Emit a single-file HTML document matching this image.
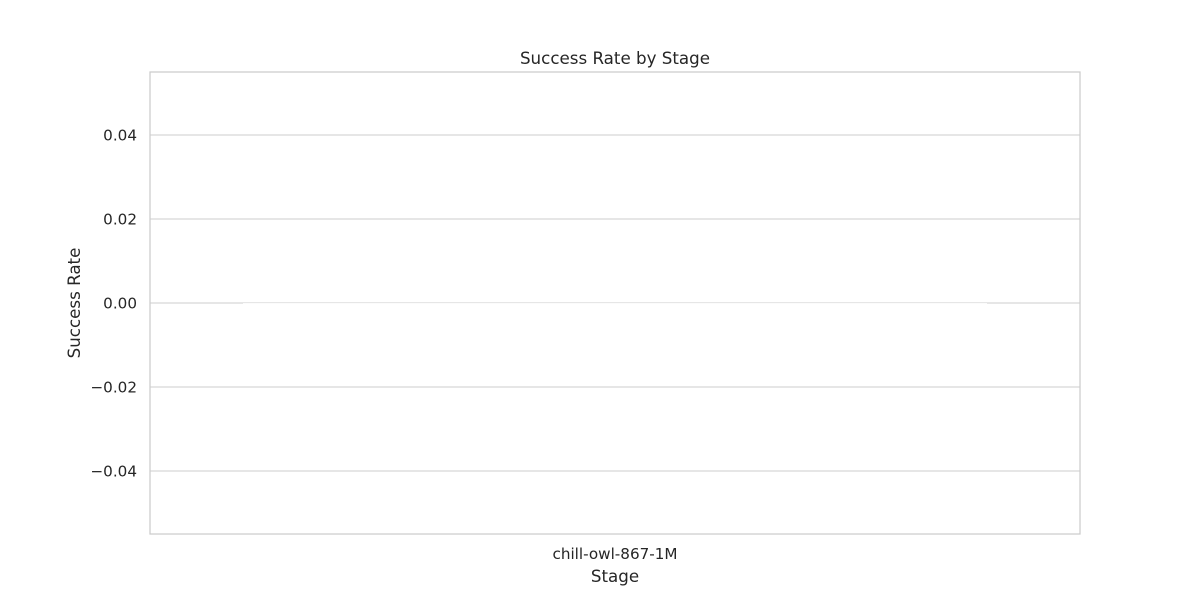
<!DOCTYPE html>
<html><head><meta charset="utf-8"><style>
body{margin:0;background:#fff;font-family:"DejaVu Sans","Liberation Sans",sans-serif;}
</style></head><body>
<svg id="chart" width="1200" height="600" xmlns="http://www.w3.org/2000/svg" font-family="DejaVu Sans, Liberation Sans, sans-serif"></svg>
<script>
const categories = ["chill-owl-867-1M"];
const values = [0];
const yTicks = [-0.04, -0.02, 0.00, 0.02, 0.04];
const yTickLabels = ["\u22120.04", "\u22120.02", "0.00", "0.02", "0.04"];

const svg = document.getElementById('chart');
const NS = "http://www.w3.org/2000/svg";
const L = 150, R = 1080, T = 72, B = 534;
const yMin = -0.055, yMax = 0.055;
function y(v){ return B - (v - yMin) / (yMax - yMin) * (B - T); }
const band = (R - L) / categories.length;
function x(i){ return L + band * i; }
function mk(tag, attrs, name){
  const e = document.createElementNS(NS, tag);
  for (const k in attrs) e.setAttribute(k, attrs[k]);
  
  
  svg.appendChild(e);
  return e;
}
yTicks.forEach((t, i) => {
  mk('line', {x1: L, x2: R, y1: y(t), y2: y(t), stroke: '#cccccc', 'stroke-width': 1}, 'y-gridline');
  const tx = mk('text', {x: L - 13, y: y(t) + 5.5, 'text-anchor': 'end', 'font-size': 15.2, fill: '#262626'}, 'y-tick-label');
  tx.textContent = yTickLabels[i];
});
categories.forEach((c, i) => {
  const v = values[i];
  const x0 = x(i) + band * 0.1, w = band * 0.8;
  const top = Math.min(y(v), y(0)), h = Math.max(Math.abs(y(v) - y(0)), 1);
  mk('rect', {x: x0, y: top, width: w, height: h, fill: '#fbfbfb'}, 'bar');
  const lab = mk('text', {x: x(i) + band / 2, y: B + 25, 'text-anchor': 'middle', 'font-size': 15.2, fill: '#262626'}, 'x-tick-label');
  lab.textContent = c;
});
mk('rect', {x: L, y: T, width: R - L, height: B - T, fill: 'none', stroke: '#cccccc', 'stroke-width': 1.25}, 'plot-frame');
const title = mk('text', {x: (L + R) / 2, y: 64, 'text-anchor': 'middle', 'font-size': 16.7, fill: '#262626'}, 'chart-title');
title.textContent = "Success Rate by Stage";
const xt = mk('text', {x: (L + R) / 2, y: 582, 'text-anchor': 'middle', 'font-size': 16.7, fill: '#262626'}, 'x-axis-title');
xt.textContent = "Stage";
const yt = mk('text', {x: 80, y: (T + B) / 2, 'text-anchor': 'middle', 'font-size': 16.7, fill: '#262626', transform: 'rotate(-90 80 ' + (T + B) / 2 + ')'}, 'y-axis-title');
yt.textContent = "Success Rate";
</script>
</body></html>
